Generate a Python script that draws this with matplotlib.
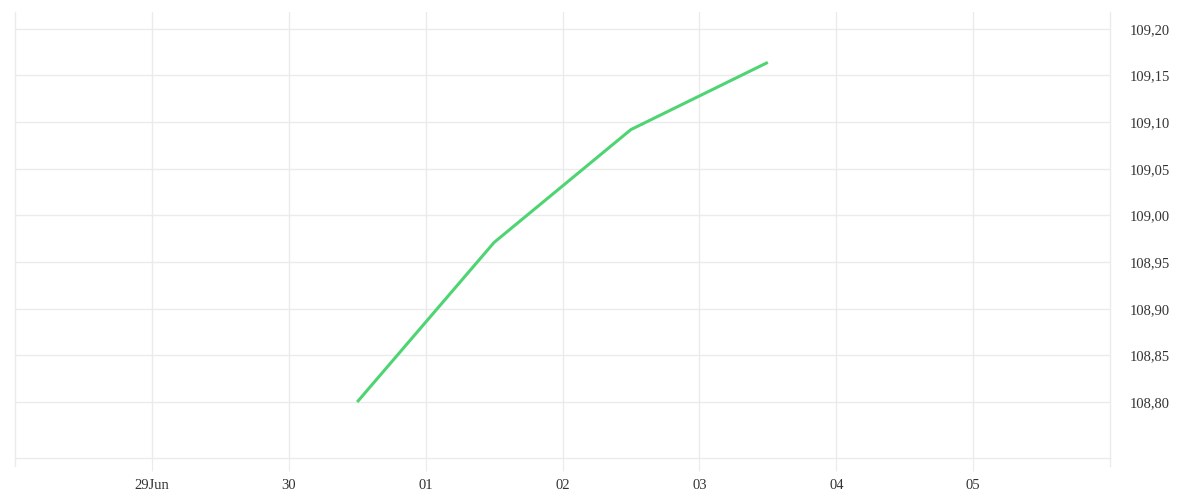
import numpy as np
import pandas as pd
import matplotlib
matplotlib.use("Agg")
import matplotlib.pyplot as plt
import matplotlib.dates as mdates
from matplotlib.ticker import FuncFormatter

# данные
dates = pd.to_datetime(["2023-06-30 12:00", "2023-07-01 12:00",
                        "2023-07-02 12:00", "2023-07-03 12:00"])
values = [108.800, 108.971, 109.092, 109.164]

tick_days = pd.date_range("2023-06-29", "2023-07-05", freq="D")
tick_labels = ["29Jun", "30", "01", "02", "03", "04", "05"]
y_ticks = [108.80, 108.85, 108.90, 108.95, 109.00, 109.05, 109.10, 109.15, 109.20]

plt.rcParams['font.family'] = ['Liberation Serif', 'DejaVu Serif']

fig = plt.figure(figsize=(12, 5), dpi=100)
ax = fig.add_axes([0.0125, 0.084, 0.9125, 0.892])

ax.plot(dates, values, color="#4fd473", linewidth=2.2, solid_capstyle="butt")

ax.set_xlim(pd.Timestamp("2023-06-28"), pd.Timestamp("2023-07-06"))
ax.set_ylim(108.74, 109.218)

grid_c = "#ebebeb"
ax.set_xticks(tick_days)
ax.set_xticklabels(tick_labels)
ax.set_yticks(y_ticks)
ax.yaxis.set_major_formatter(FuncFormatter(lambda v, p: f"{v:.2f}".replace(".", ",")))
ax.yaxis.tick_right()

ax.grid(True, color=grid_c, linewidth=1)
ax.tick_params(axis="x", length=9, color=grid_c, labelsize=10.5, labelcolor="#333333", pad=6)
ax.tick_params(axis="y", length=0, labelsize=10.5, labelcolor="#333333", pad=14)

for side in ["top"]:
    ax.spines[side].set_visible(False)
for side in ["left", "right", "bottom"]:
    ax.spines[side].set_color(grid_c)
    ax.spines[side].set_linewidth(1)

# рамки по краям уходят ниже оси, как засечки
for xe in [pd.Timestamp("2023-06-28"), pd.Timestamp("2023-07-06")]:
    ax.plot([xe, xe], [108.74, 108.731], color=grid_c, linewidth=1, clip_on=False)

fig.savefig("out.png", dpi=100)
